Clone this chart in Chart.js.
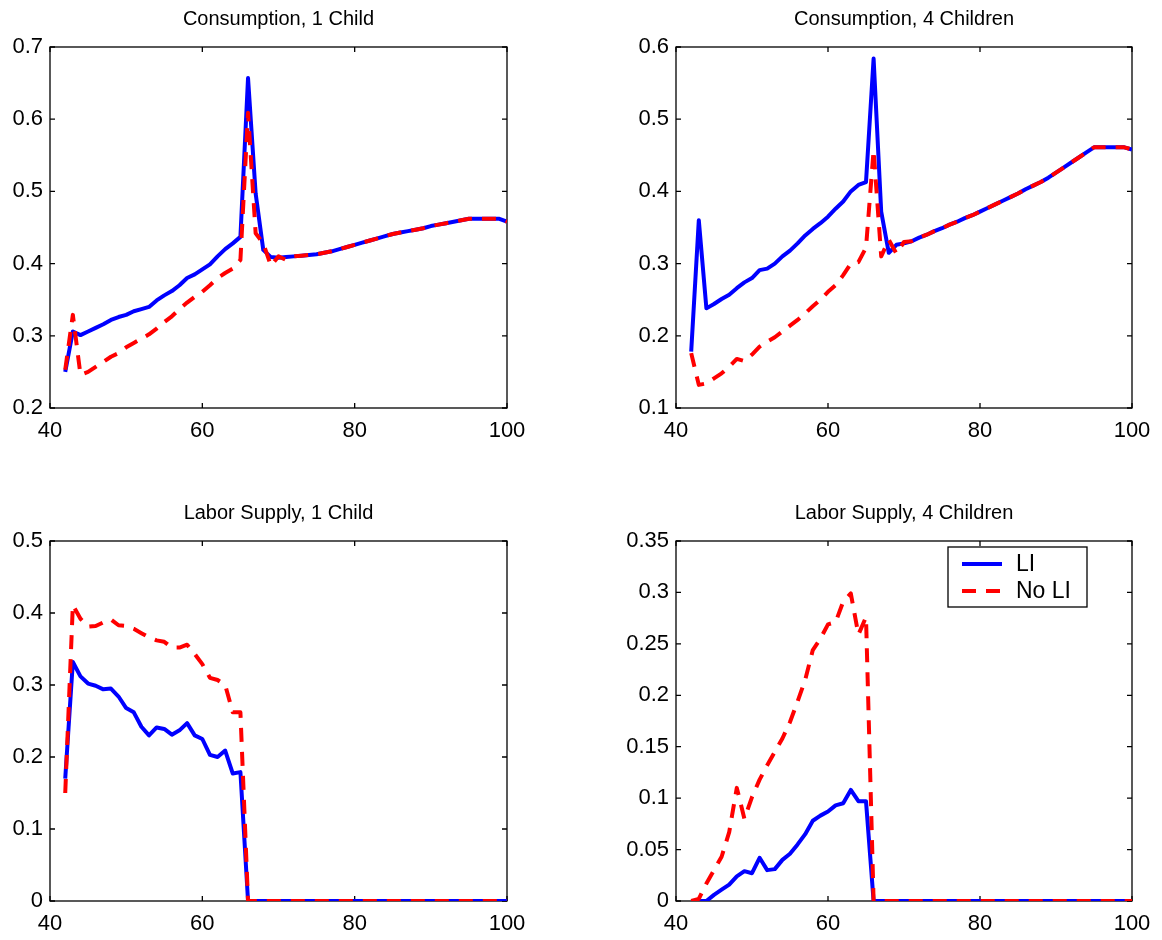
<!DOCTYPE html>
<html>
<head>
<meta charset="utf-8">
<script src="https://cdn.jsdelivr.net/npm/chart.js@4.4.1/dist/chart.umd.min.js"></script>
<style>
  body { margin: 0; background: #fff; }
  canvas { position: absolute; }
</style>
</head>
<body>
<canvas id="c1" width="537" height="448" style="left:0px;top:0px"></canvas>
<canvas id="c2" width="536" height="448" style="left:626px;top:0px"></canvas>
<canvas id="c3" width="537" height="447" style="left:0px;top:494px"></canvas>
<canvas id="c4" width="536" height="447" style="left:626px;top:494px"></canvas>
<script>
const ages = [42, 43, 44, 45, 46, 47, 48, 49, 50, 51, 52, 53, 54, 55, 56, 57, 58, 59, 60,
  61, 62, 63, 64, 65, 66, 67, 68, 69, 70, 71, 72, 73, 74, 75, 76, 77, 78, 79, 80,
  81, 82, 83, 84, 85, 86, 87, 88, 89, 90, 91, 92, 93, 94, 95, 96, 97, 98, 99, 100];

// consumption, 1 child
const cons1LI = [0.250, 0.306, 0.301, 0.306, 0.311, 0.316, 0.322, 0.326, 0.329, 0.334,
  0.337, 0.340, 0.349, 0.356, 0.362, 0.370, 0.380, 0.385, 0.392, 0.399,
  0.410, 0.420, 0.428, 0.437, 0.657, 0.497, 0.419, 0.409, 0.408,
  0.409, 0.410, 0.411, 0.412, 0.413, 0.415, 0.417, 0.420, 0.423, 0.426,
  0.429, 0.432, 0.435, 0.438, 0.441, 0.443, 0.445, 0.447, 0.449, 0.452,
  0.454, 0.456, 0.458, 0.460, 0.462, 0.462, 0.462, 0.462, 0.462, 0.458];
const cons1NoLI = [0.253, 0.329, 0.246, 0.250, 0.257, 0.264, 0.271, 0.276, 0.284, 0.290,
  0.296, 0.302, 0.310, 0.319, 0.327, 0.337, 0.346, 0.354, 0.361, 0.370,
  0.380, 0.387, 0.393, 0.405, 0.609, 0.442, 0.428, 0.397, 0.410,
  0.405, 0.410, 0.411, 0.412, 0.413, 0.415, 0.417, 0.420, 0.423, 0.426,
  0.429, 0.432, 0.435, 0.438, 0.441, 0.443, 0.445, 0.447, 0.449, 0.452,
  0.454, 0.456, 0.458, 0.460, 0.462, 0.462, 0.462, 0.462, 0.462, 0.458];

// consumption, 4 children
const cons4LI = [0.178, 0.360, 0.238, 0.244, 0.251, 0.257, 0.266, 0.274, 0.280, 0.291,
  0.293, 0.300, 0.310, 0.318, 0.328, 0.339, 0.348, 0.356, 0.365, 0.376,
  0.386, 0.400, 0.409, 0.413, 0.584, 0.372, 0.315, 0.326, 0.328,
  0.331, 0.336, 0.340, 0.345, 0.349, 0.354, 0.358, 0.363, 0.367, 0.372,
  0.377, 0.382, 0.387, 0.392, 0.397, 0.403, 0.408, 0.413, 0.419, 0.426,
  0.433, 0.440, 0.447, 0.454, 0.461, 0.461, 0.461, 0.461, 0.461, 0.458];
const cons4NoLI = [0.176, 0.132, 0.134, 0.141, 0.148, 0.157, 0.168, 0.165, 0.174, 0.185,
  0.192, 0.198, 0.206, 0.214, 0.222, 0.231, 0.241, 0.250, 0.261, 0.270,
  0.284, 0.300, 0.302, 0.322, 0.457, 0.310, 0.333, 0.314, 0.330,
  0.331, 0.336, 0.340, 0.345, 0.349, 0.354, 0.358, 0.363, 0.367, 0.372,
  0.377, 0.382, 0.387, 0.392, 0.397, 0.403, 0.408, 0.413, 0.419, 0.426,
  0.433, 0.440, 0.447, 0.454, 0.461, 0.461, 0.461, 0.461, 0.461, 0.458];

// labor supply, 1 child
const labor1LI = [0.170, 0.332, 0.312, 0.302, 0.299, 0.294, 0.295, 0.284, 0.268, 0.262,
  0.242, 0.230, 0.241, 0.239, 0.231, 0.237, 0.247, 0.230, 0.225, 0.203,
  0.200, 0.209, 0.177, 0.179, 0, 0, 0, 0, 0,
  0, 0, 0, 0, 0, 0, 0, 0, 0, 0,
  0, 0, 0, 0, 0, 0, 0, 0, 0, 0,
  0, 0, 0, 0, 0, 0, 0, 0, 0, 0];
const labor1NoLI = [0.150, 0.411, 0.392, 0.381, 0.382, 0.387, 0.391, 0.383, 0.382, 0.378,
  0.372, 0.366, 0.362, 0.360, 0.352, 0.352, 0.356, 0.343, 0.329, 0.310,
  0.307, 0.300, 0.262, 0.262, 0, 0, 0, 0, 0,
  0, 0, 0, 0, 0, 0, 0, 0, 0, 0,
  0, 0, 0, 0, 0, 0, 0, 0, 0, 0,
  0, 0, 0, 0, 0, 0, 0, 0, 0, 0];

// labor supply, 4 children
const labor4LI = [0, 0, 0, 0.006, 0.011, 0.016, 0.024, 0.029, 0.027, 0.042,
  0.030, 0.031, 0.040, 0.046, 0.055, 0.065, 0.078, 0.083, 0.087, 0.093,
  0.095, 0.108, 0.097, 0.097, 0, 0, 0, 0, 0,
  0, 0, 0, 0, 0, 0, 0, 0, 0, 0,
  0, 0, 0, 0, 0, 0, 0, 0, 0, 0,
  0, 0, 0, 0, 0, 0, 0, 0, 0, 0];
const labor4NoLI = [0, 0.002, 0.017, 0.030, 0.043, 0.067, 0.110, 0.080, 0.101, 0.118,
  0.132, 0.145, 0.158, 0.174, 0.194, 0.215, 0.244, 0.255, 0.269, 0.271,
  0.291, 0.299, 0.259, 0.276, 0, 0, 0, 0, 0,
  0, 0, 0, 0, 0, 0, 0, 0, 0, 0,
  0, 0, 0, 0, 0, 0, 0, 0, 0, 0,
  0, 0, 0, 0, 0, 0, 0, 0, 0, 0];

const xTicks = [40, 60, 80, 100];
const seriesNames = ['LI', 'No LI'];

const FONT = "'Liberation Sans', Arial, Helvetica, sans-serif";
const BLUE = '#0000ff';
const RED = '#ff0000';

// matlab style box with inward ticks on all four sides
const boxTicks = {
  id: 'boxTicks',
  beforeDatasetsDraw(chart) {
    const { ctx, chartArea: a, scales: { x, y } } = chart;
    ctx.save();
    ctx.strokeStyle = '#000';
    ctx.lineWidth = 1.3;
    ctx.strokeRect(a.left, a.top, a.right - a.left, a.bottom - a.top);
    ctx.beginPath();
    x.ticks.forEach(t => {
      const px = x.getPixelForValue(t.value);
      ctx.moveTo(px, a.bottom); ctx.lineTo(px, a.bottom - 5);
      ctx.moveTo(px, a.top); ctx.lineTo(px, a.top + 5);
    });
    y.ticks.forEach(t => {
      const py = y.getPixelForValue(t.value);
      ctx.moveTo(a.left, py); ctx.lineTo(a.left + 5, py);
      ctx.moveTo(a.right, py); ctx.lineTo(a.right - 5, py);
    });
    ctx.stroke();
    ctx.restore();
  }
};

// boxed legend inside the top right corner
const boxLegend = {
  id: 'boxLegend',
  afterDraw(chart, args, opts) {
    if (!opts.show) return;
    const { ctx, chartArea: a } = chart;
    const left = a.right - 184, top = a.top + 6;
    ctx.save();
    ctx.fillStyle = '#fff';
    ctx.fillRect(left, top, 139, 60);
    ctx.strokeStyle = '#000';
    ctx.lineWidth = 1.3;
    ctx.strokeRect(left, top, 139, 60);
    ctx.font = '23px ' + FONT;
    ctx.textBaseline = 'middle';
    ctx.textAlign = 'left';
    chart.data.datasets.forEach(ds => {
      const ly = top + 17 + (ds.label === seriesNames[0] ? 0 : 27);
      ctx.beginPath();
      ctx.strokeStyle = ds.borderColor;
      ctx.lineWidth = ds.borderWidth;
      ctx.setLineDash(ds.borderDash || []);
      ctx.moveTo(left + 14, ly);
      ctx.lineTo(left + 54, ly);
      ctx.stroke();
      ctx.setLineDash([]);
      ctx.fillStyle = '#000';
      ctx.fillText(ds.label, left + 68, ly + 1);
    });
    ctx.restore();
  }
};

function points(vals) {
  return ages.map((a, i) => ({ x: a, y: vals[i] }));
}

function makeChart(id, title, li, noLi, yMin, yMax, yStep, legend) {
  return new Chart(document.getElementById(id), {
    type: 'line',
    data: {
      datasets: [{
        label: seriesNames[0],
        data: points(li),
        borderColor: BLUE,
        borderWidth: 4,
        borderJoinStyle: 'round',
        pointRadius: 0,
        tension: 0,
        order: 2
      }, {
        label: seriesNames[1],
        data: points(noLi),
        borderColor: RED,
        borderWidth: 4,
        borderDash: [14, 10],
        borderJoinStyle: 'round',
        pointRadius: 0,
        tension: 0,
        order: 1
      }]
    },
    options: {
      responsive: false,
      animation: false,
      events: [],
      layout: { padding: { left: 0, right: 30, top: 0, bottom: 0 } },
      plugins: {
        legend: { display: false },
        tooltip: { enabled: false },
        title: {
          display: true,
          fullSize: false,
          text: title,
          color: '#000',
          font: { family: FONT, size: 20, weight: 'normal', lineHeight: 1 },
          padding: { top: 9, bottom: 18 }
        },
        boxLegend: { show: legend }
      },
      scales: {
        x: {
          type: 'linear',
          min: xTicks[0],
          max: xTicks[xTicks.length - 1],
          afterBuildTicks(s) { s.ticks = xTicks.map(v => ({ value: v })); },
          ticks: { color: '#000', font: { family: FONT, size: 22 }, padding: 10, maxRotation: 0, autoSkip: false },
          grid: { display: false, drawTicks: false },
          border: { display: false },
          afterFit(s) { s.height = 40; }
        },
        y: {
          min: yMin,
          max: yMax,
          ticks: {
            stepSize: yStep,
            color: '#000',
            font: { family: FONT, size: 22 },
            padding: 7,
            callback: v => String(parseFloat(v.toFixed(2)))
          },
          grid: { display: false, drawTicks: false },
          border: { display: false },
          afterFit(s) { s.width = 50; }
        }
      }
    },
    plugins: [boxTicks, boxLegend]
  });
}

makeChart('c1', 'Consumption, 1 Child', cons1LI, cons1NoLI, 0.2, 0.7, 0.1, false);
makeChart('c2', 'Consumption, 4 Children', cons4LI, cons4NoLI, 0.1, 0.6, 0.1, false);
makeChart('c3', 'Labor Supply, 1 Child', labor1LI, labor1NoLI, 0, 0.5, 0.1, false);
makeChart('c4', 'Labor Supply, 4 Children', labor4LI, labor4NoLI, 0, 0.35, 0.05, true);
</script>
</body>
</html>
